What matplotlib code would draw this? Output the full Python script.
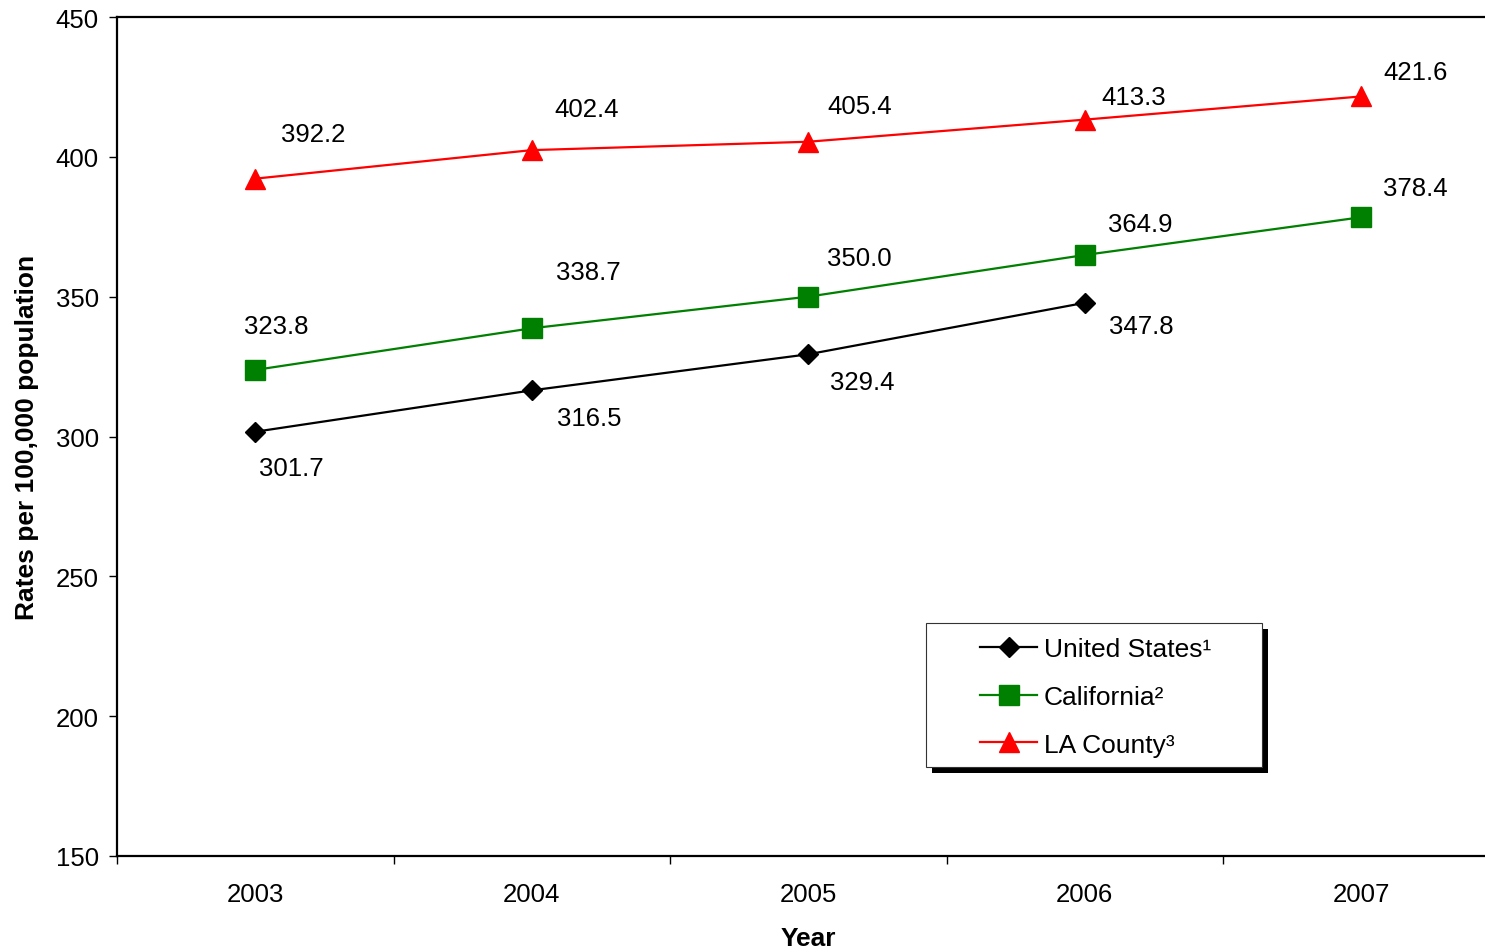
import matplotlib
matplotlib.use("Agg")
import matplotlib.pyplot as plt
from matplotlib.patches import Rectangle

plt.rcParams['font.family'] = ['Liberation Sans', 'DejaVu Sans']

years = ["2003", "2004", "2005", "2006", "2007"]
us_values = [301.7, 316.5, 329.4, 347.8]
ca_values = [323.8, 338.7, 350.0, 364.9, 378.4]
la_values = [392.2, 402.4, 405.4, 413.3, 421.6]
series_names = ["United States¹", "California²", "LA County³"]
y_ticks = [150, 200, 250, 300, 350, 400, 450]

# label offsets in pixels (layout only)
us_off = [(36, -34), (58, -26), (54, -26), (57, -21)]
ca_off = [(21, 46), (57, 58), (51, 41), (55, 33), (54, 31)]
la_off = [(58, 47), (55, 43), (51, 38), (49, 25), (54, 26)]

W, H = 1485, 953
fig = plt.figure(figsize=(W / 100, H / 100), dpi=100)
left, right, top, bottom = 117, 1499.5, 18, 857
ax = fig.add_axes([left / W, 1 - bottom / H, (right - left) / W, (bottom - top) / H])

FS = 18.5
x = list(range(len(years)))
series = [
    (us_values, "black", "D", 10, us_off, series_names[0]),
    (ca_values, "#008000", "s", 14, ca_off, series_names[1]),
    (la_values, "#FF0000", "^", 15, la_off, series_names[2]),
]
handles = []
for vals, col, mk, ms, offs, name in series:
    xs = x[:len(vals)]
    h, = ax.plot(xs, vals, color=col, lw=1.6, marker=mk, markersize=ms,
                 markerfacecolor=col, markeredgecolor=col, label=name, clip_on=False)
    handles.append(h)
    for xi, v, (dx, dy) in zip(xs, vals, offs):
        ax.annotate(f"{v:.1f}", (xi, v), xytext=(dx, dy - 2), textcoords="offset pixels",
                    ha="center", va="center", fontsize=FS, color="black")

ax.set_xlim(-0.5, len(years) - 0.5)
ax.set_ylim(150, 450)
ax.set_yticks(y_ticks)
ax.set_yticklabels([str(t) for t in y_ticks], fontsize=FS)
ax.set_xticks(x)
ax.set_xticklabels(years, fontsize=FS)
ax.tick_params(axis="x", which="major", length=0, pad=19)
ax.set_xticks([i + 0.5 for i in range(-1, len(years))], minor=True)
ax.tick_params(axis="x", which="minor", length=6, width=1, direction="out")
ax.tick_params(axis="y", length=6, width=1, direction="out", pad=7)

for s in ["left", "bottom", "top"]:
    ax.spines[s].set_linewidth(1.6)
ax.spines["right"].set_visible(False)

ax.set_xlabel("Year", fontsize=19, fontweight="bold", labelpad=14)
ax.set_ylabel("Rates per 100,000 population", fontsize=19, fontweight="bold", labelpad=12)

# legend box (pixels, origin top-left of figure)
bx0, by0, bx1, by1 = 926, 624, 1262, 768
ax.add_artist(Rectangle((bx0 + 6, H - by1 - 6), bx1 - bx0, by1 - by0, transform=None,
                        facecolor="black", edgecolor="none", zorder=5.4))
ax.add_artist(Rectangle((bx0, H - by1), bx1 - bx0, by1 - by0, transform=None,
                        facecolor="white", edgecolor="#333333", lw=0.8, zorder=5.5))

LFS = 19
leg = ax.legend(handles=handles, loc="upper left",
                bbox_to_anchor=(980 / W, 1 - 638 / H), bbox_transform=fig.transFigure,
                fontsize=LFS, frameon=False,
                borderpad=0, handlelength=2.16, handletextpad=0.25, labelspacing=0.9,
                borderaxespad=0, markerscale=1.0)
leg.set_zorder(6)

fig.savefig("out.png", dpi=100)
